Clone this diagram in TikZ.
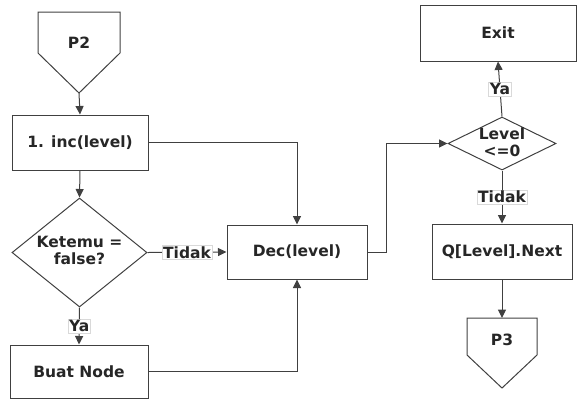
\documentclass[tikz,border=0pt]{standalone}
\usepackage{fontspec}
\setmainfont{DejaVu Sans}
\usetikzlibrary{shapes.geometric,arrows.meta}
\definecolor{ln}{HTML}{404040}
\begin{document}
\begin{tikzpicture}[x=1pt,y=-1pt,
  every node/.style={font=\fontsize{15.5}{17}\selectfont\bfseries, text=black!85},
  box/.style={draw=ln, line width=1pt, fill=white, inner sep=0pt},
  dia/.style={draw=ln, line width=1pt, diamond, inner sep=0pt},
  con/.style={draw=ln, line width=1pt, line join=miter},
  arr/.style={draw=ln, line width=1pt, -{Triangle[length=8.5pt,width=8pt]}},
  lab/.style={fill=white, draw=gray!30, line width=0.5pt, inner sep=1.2pt}]
\useasboundingbox (0,0) rectangle (577,400);
% P2 connector
\draw[con] (38,12) -- (120,12) -- (120,53) -- (79,93) -- (38,53) -- cycle;
\node (p2) at (79,43) {P2};
\coordinate (p2tip) at (79,93);
% boxes
\node[box, minimum width=136pt, minimum height=55pt] (inc) at (80,142.5) {1. inc(level)};
\node[dia, minimum width=135pt, minimum height=109pt] (ket) at (79.5,252.5) {};
\node[align=center] (kett) at (79.5,250) {Ketemu =\\false?};
\node[box, minimum width=138pt, minimum height=53pt] (buat) at (79,371.5) {Buat Node};
\node[box, minimum width=140pt, minimum height=54pt] (dec) at (297,252) {Dec(level)};
\node[box, minimum width=156pt, minimum height=56pt] (exit) at (498,33) {Exit};
\node[dia, minimum width=108pt, minimum height=53pt] (lvl) at (502,143.5) {};
\node[align=center] (lvlt) at (502,142) {Level\\<=0};
\node[box, minimum width=140pt, minimum height=55pt] (q) at (502,251.5) {Q[Level].Next};
% P3 connector
\draw[con] (467,318) -- (537,318) -- (537,355) -- (502,388) -- (467,355) -- cycle;
\node (p3) at (502,340) {P3};
\coordinate (p3top) at (502,318);
% connectors
\draw[arr] (p2tip) -- (inc.north);
\draw[arr] (inc.east) -| (dec.north);
\draw[arr] (inc.south) -- (ket.north);
\draw[arr] (ket.east) -- node[lab] {Tidak} (dec.west);
\draw[arr] (ket.south) -- node[lab] {Ya} (buat.north);
\draw[arr] (buat.east) -| (dec.south);
\draw[arr] (dec.east) -- ++(19,0) |- (lvl.west);
\draw[arr] (lvl.north) -- node[lab] {Ya} (exit.south);
\draw[arr] (lvl.south) -- node[lab] {Tidak} (q.north);
\draw[arr] (q.south) -- (p3top);
\end{tikzpicture}
\end{document}
